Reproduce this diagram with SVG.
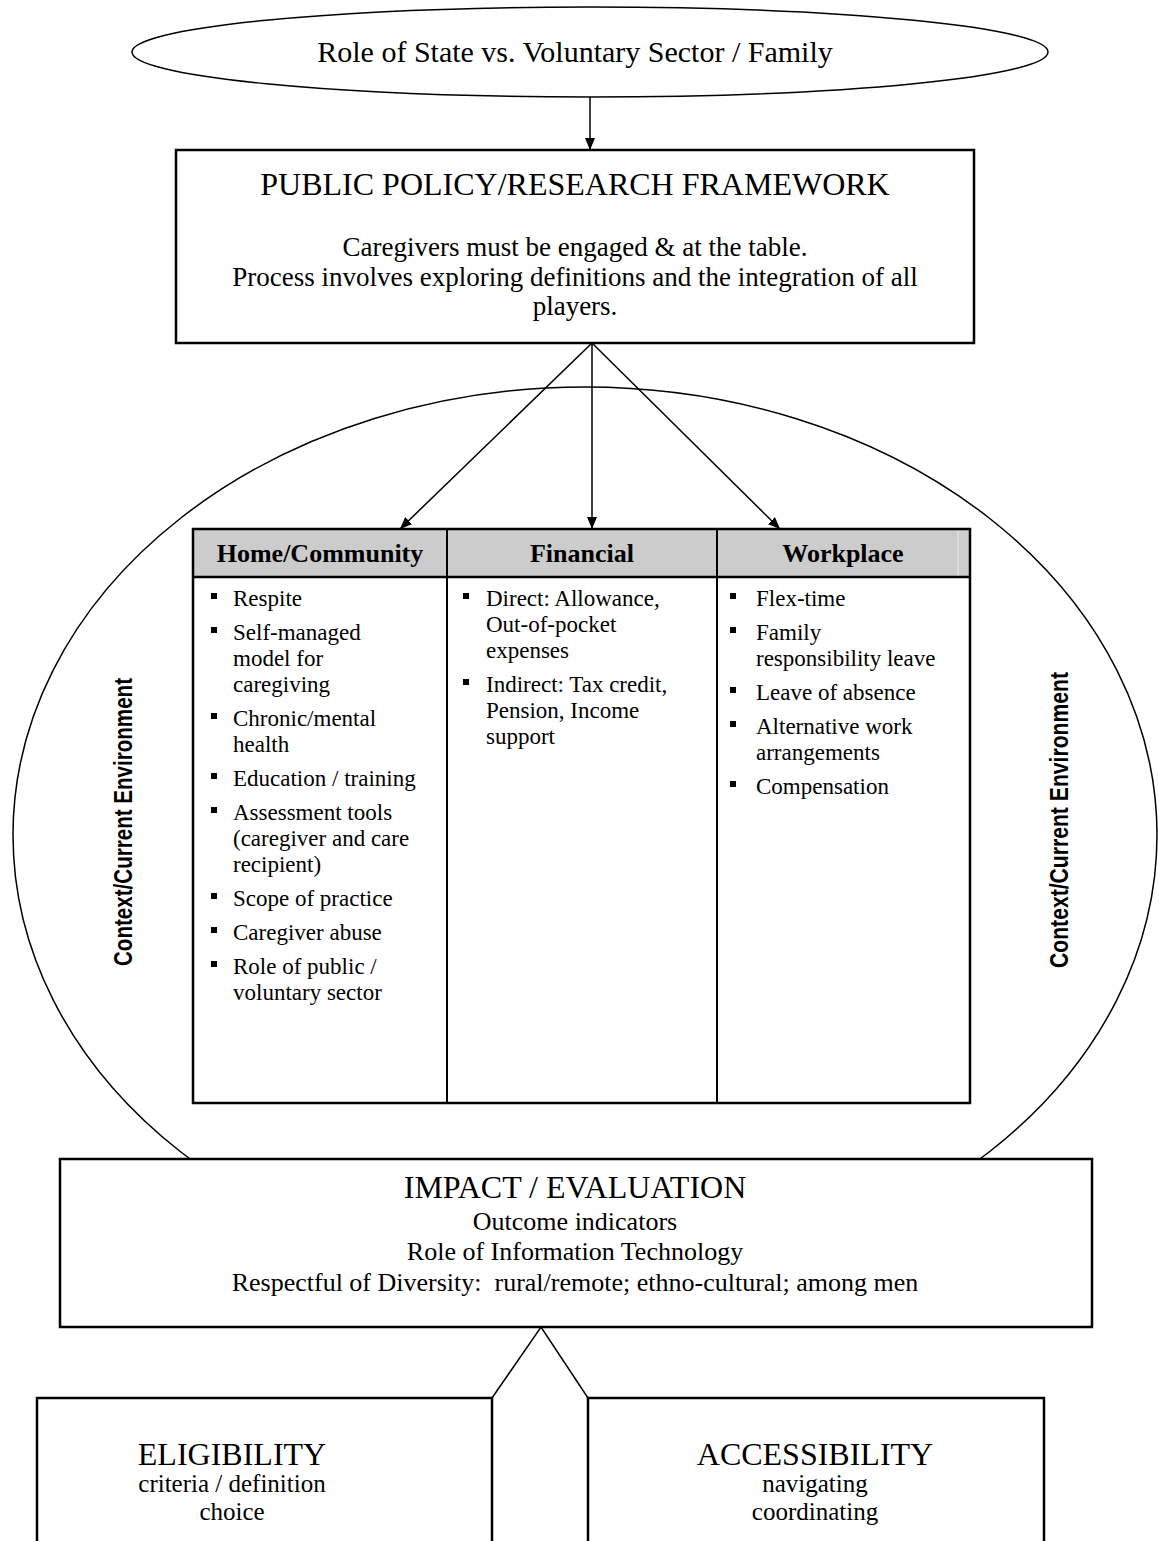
<svg xmlns="http://www.w3.org/2000/svg" width="1159" height="1541" viewBox="0 0 1159 1541">
<style>
.s{fill:none;stroke:#000;stroke-width:1.5}
.box{fill:#fff;stroke:#000;stroke-width:2.5}
.t{font-family:"Liberation Serif","Times New Roman",serif;fill:#000}
.ti{font-size:32px;text-anchor:middle}
.bd{font-size:27px;text-anchor:middle}
.ib{font-size:26px;text-anchor:middle}
.eb{font-size:25px;text-anchor:middle}
.hd{font-size:26px;font-weight:bold;text-anchor:middle}
.li{font-size:23px}
.v{font-family:"Liberation Sans",Arial,sans-serif;font-weight:bold;font-size:25px;fill:#000}
.ln{stroke:#000;stroke-width:1.5;fill:none}
</style>
<defs>
<marker id="ah" viewBox="0 0 12 10" refX="12" refY="5" markerWidth="12" markerHeight="10" markerUnits="userSpaceOnUse" orient="auto">
<path d="M0,0 L12,5 L0,10 Z" fill="#000"/>
</marker>
<rect id="b" width="6" height="6" fill="#000"/>
</defs>

<g id="context-circle">
<ellipse cx="585" cy="835" rx="572" ry="448" class="s"/>
<text class="v" transform="translate(132,966) rotate(-90)" textLength="288" lengthAdjust="spacingAndGlyphs">Context/Current Environment</text>
<text class="v" transform="translate(1068,968) rotate(-90)" textLength="296" lengthAdjust="spacingAndGlyphs">Context/Current Environment</text>
</g>

<g id="role-state">
<ellipse cx="590" cy="52" rx="458" ry="45" class="s" stroke-width="2"/>
<text class="t" font-size="30" text-anchor="middle" x="575" y="62">Role of State vs. Voluntary Sector / Family</text>
</g>

<g id="public-policy">
<rect x="176" y="150" width="798" height="193" class="box"/>
<text class="t ti" x="575" y="195">PUBLIC POLICY/RESEARCH FRAMEWORK</text>
<text class="t bd" x="575" y="256">Caregivers must be engaged &amp; at the table.</text>
<text class="t bd" x="575" y="286">Process involves exploring definitions and the integration of all</text>
<text class="t bd" x="575" y="315">players.</text>
</g>

<g id="table">
<rect x="193" y="529" width="777" height="48" fill="#cccccc"/>
<line x1="958" y1="531" x2="958" y2="576" stroke="#eeeeee" stroke-width="1"/>
<rect x="193" y="529" width="777" height="574" fill="none" stroke="#000" stroke-width="2.5"/>
<line x1="193" y1="577" x2="970" y2="577" stroke="#000" stroke-width="2.5"/>
<line x1="447" y1="529" x2="447" y2="1103" stroke="#000" stroke-width="2"/>
<line x1="717" y1="529" x2="717" y2="1103" stroke="#000" stroke-width="2"/>
<g id="home-community">
<text class="t hd" x="320" y="562">Home/Community</text>
<g class="t li">
<use href="#b" x="211" y="593"/><text x="233" y="606">Respite</text>
<use href="#b" x="211" y="627"/><text x="233" y="640">Self-managed</text>
<text x="233" y="666">model for</text>
<text x="233" y="692">caregiving</text>
<use href="#b" x="211" y="713"/><text x="233" y="726">Chronic/mental</text>
<text x="233" y="752">health</text>
<use href="#b" x="211" y="773"/><text x="233" y="786">Education / training</text>
<use href="#b" x="211" y="807"/><text x="233" y="820">Assessment tools</text>
<text x="233" y="846">(caregiver and care</text>
<text x="233" y="872">recipient)</text>
<use href="#b" x="211" y="893"/><text x="233" y="906">Scope of practice</text>
<use href="#b" x="211" y="927"/><text x="233" y="940">Caregiver abuse</text>
<use href="#b" x="211" y="961"/><text x="233" y="974">Role of public /</text>
<text x="233" y="1000">voluntary sector</text>
</g>
</g>
<g id="financial">
<text class="t hd" x="582" y="562">Financial</text>
<g class="t li">
<use href="#b" x="463" y="593"/><text x="486" y="606">Direct: Allowance,</text>
<text x="486" y="632">Out-of-pocket</text>
<text x="486" y="658">expenses</text>
<use href="#b" x="463" y="679"/><text x="486" y="692">Indirect: Tax credit,</text>
<text x="486" y="718">Pension, Income</text>
<text x="486" y="744">support</text>
</g>
</g>
<g id="workplace">
<text class="t hd" x="843" y="562">Workplace</text>
<g class="t li">
<use href="#b" x="730" y="593"/><text x="756" y="606">Flex-time</text>
<use href="#b" x="730" y="627"/><text x="756" y="640">Family</text>
<text x="756" y="666">responsibility leave</text>
<use href="#b" x="730" y="687"/><text x="756" y="700">Leave of absence</text>
<use href="#b" x="730" y="721"/><text x="756" y="734">Alternative work</text>
<text x="756" y="760">arrangements</text>
<use href="#b" x="730" y="781"/><text x="756" y="794">Compensation</text>
</g>
</g>
</g>

<g id="impact">
<rect x="60" y="1159" width="1032" height="168" class="box"/>
<text class="t ti" x="575" y="1198">IMPACT / EVALUATION</text>
<text class="t ib" x="575" y="1230">Outcome indicators</text>
<text class="t ib" x="575" y="1260">Role of Information Technology</text>
<text class="t ib" x="575" y="1291">Respectful of Diversity:&#160; rural/remote; ethno-cultural; among men</text>
</g>

<g id="eligibility">
<path d="M37,1541 V1398 H492 V1541" class="box"/>
<text class="t ti" x="232" y="1465">ELIGIBILITY</text>
<text class="t eb" x="232" y="1492">criteria / definition</text>
<text class="t eb" x="232" y="1520">choice</text>
</g>

<g id="accessibility">
<path d="M588,1541 V1398 H1044 V1541" class="box"/>
<text class="t ti" x="815" y="1465">ACCESSIBILITY</text>
<text class="t eb" x="815" y="1492">navigating</text>
<text class="t eb" x="815" y="1520">coordinating</text>
</g>

<g id="connectors">
<line x1="590" y1="97" x2="590" y2="150" class="ln" marker-end="url(#ah)"/>
<line x1="592" y1="343" x2="400" y2="529" class="ln" marker-end="url(#ah)"/>
<line x1="592" y1="343" x2="592" y2="529" class="ln" marker-end="url(#ah)"/>
<line x1="592" y1="343" x2="780" y2="529" class="ln" marker-end="url(#ah)"/>
<polyline points="492,1398 541,1327 588,1398" class="ln"/>
</g>
</svg>
